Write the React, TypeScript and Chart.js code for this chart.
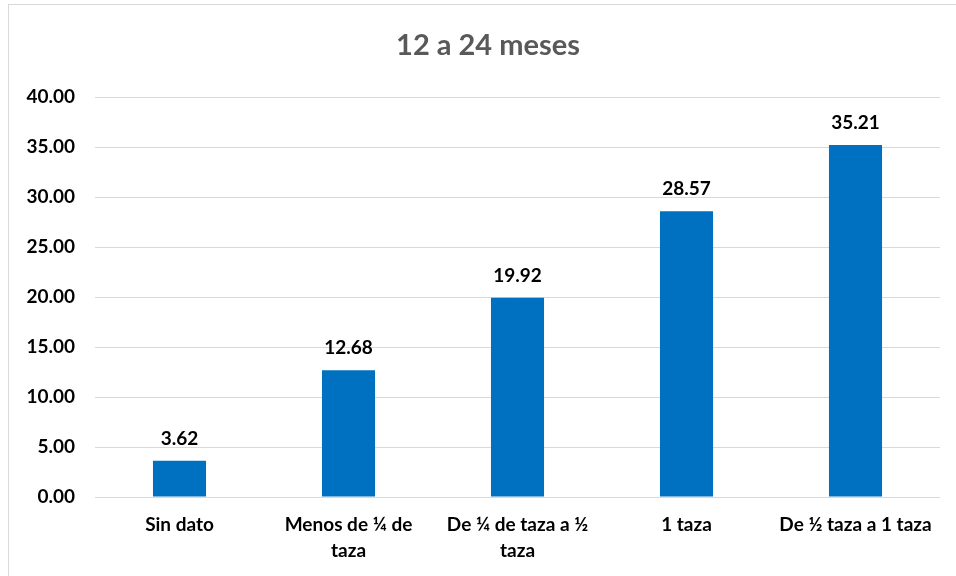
import React, { useEffect, useRef } from "react";
import { Chart, registerables } from "chart.js";

Chart.register(...registerables);

const title = "12 a 24 meses";
const categories: string[][] = [
  ["Sin dato"],
  ["Menos de ¼ de", "taza"],
  ["De ¼ de taza a ½", "taza"],
  ["1 taza"],
  ["De ½ taza a 1 taza"],
];
const values = [3.62, 12.68, 19.92, 28.57, 35.21];
const yMin = 0;
const yMax = 40;
const yStep = 5;

const FONT = "Lato, 'Noto Sans', sans-serif";

// Value labels above each bar
const valueLabels = {
  id: "valueLabels",
  afterDatasetsDraw(chart: Chart) {
    const ctx = chart.ctx;
    const meta = chart.getDatasetMeta(0);
    ctx.save();
    ctx.font = `bold 19px ${FONT}`;
    ctx.fillStyle = "#000000";
    ctx.textAlign = "center";
    ctx.textBaseline = "alphabetic";
    meta.data.forEach((bar: any, i: number) => {
      const v = chart.data.datasets[0].data[i] as number;
      ctx.fillText(v.toFixed(2), bar.x, bar.y - 16);
    });
    ctx.restore();
  },
};

// Title centred on the whole chart frame
const frameTitle = {
  id: "frameTitle",
  afterDraw(chart: Chart) {
    const ctx = chart.ctx;
    ctx.save();
    ctx.font = `bold 29px ${FONT}`;
    ctx.fillStyle = "#595959";
    ctx.textAlign = "center";
    ctx.textBaseline = "alphabetic";
    ctx.fillText(title, chart.width / 2, 55);
    ctx.restore();
  },
};

export default function App() {
  const ref = useRef<HTMLCanvasElement | null>(null);

  useEffect(() => {
    document.body.style.margin = "0";
    document.body.style.overflow = "hidden";
    const chart = new Chart(ref.current!, {
      type: "bar",
      data: {
        labels: categories,
        datasets: [
          {
            data: values,
            backgroundColor: "#0070C0",
            borderWidth: 0,
            categoryPercentage: 1,
            barPercentage: 0.314,
          },
        ],
      },
      options: {
        animation: false,
        responsive: false,
        devicePixelRatio: 1,
        layout: { padding: { top: 97, right: 36, bottom: 0, left: 0 } },
        plugins: {
          legend: { display: false },
          tooltip: { enabled: false },
          title: { display: false },
        },
        scales: {
          x: {
            grid: { display: false, drawTicks: false },
            border: { display: false },
            ticks: {
              color: "#000000",
              font: { family: FONT, size: 19, weight: "bold", lineHeight: 1.35 },
              padding: 15,
              maxRotation: 0,
              autoSkip: false,
            },
            afterFit(scale: any) {
              scale.height = 79;
            },
          },
          y: {
            min: yMin,
            max: yMax,
            grid: { color: "#d9d9d9", lineWidth: 1, drawTicks: false },
            border: { display: false },
            ticks: {
              stepSize: yStep,
              color: "#000000",
              font: { family: FONT, size: 19, weight: "bold" },
              padding: 20,
              callback: (v: any) => Number(v).toFixed(2),
            },
            afterFit(scale: any) {
              scale.width = 95;
            },
          },
        },
      },
      plugins: [valueLabels, frameTitle],
    });
    return () => chart.destroy();
  }, []);

  return (
    <div
      style={{
        position: "fixed",
        left: 0,
        top: 0,
        width: 956,
        height: 576,
        overflow: "hidden",
        background: "#ffffff",
      }}
    >
      <div
        style={{
          position: "absolute",
          left: 8,
          top: 4,
          width: 980,
          height: 600,
          border: "1px solid #d9d9d9",
          boxSizing: "border-box",
        }}
      />
      <canvas
        ref={ref}
        width={976}
        height={576}
        style={{ position: "absolute", left: 0, top: 0, width: 976, height: 576 }}
      />
    </div>
  );
}
